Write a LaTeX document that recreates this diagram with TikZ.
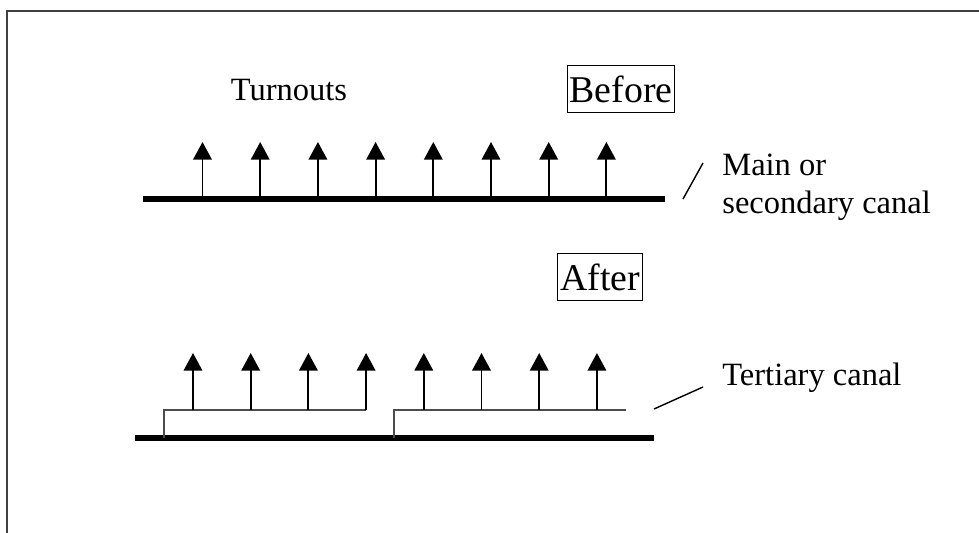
\documentclass[tikz,border=0pt]{standalone}
\usepackage{fontspec}
\setmainfont{Liberation Serif}
\usetikzlibrary{arrows.meta}
\begin{document}
\begin{tikzpicture}[x=0.02cm, y=-0.02cm,
    canal/.style={line width=3.4pt},
    turnout/.style={line width=1.1pt, -{Triangle[width=10.5pt,length=10pt]}},
    tertiary/.style={line width=1.1pt, black!70},
    leader/.style={line width=0.8pt},
    label/.style={font=\fontsize{18.5}{21.5}\selectfont, inner sep=0pt},
    stage/.style={draw, line width=0.6pt, font=\fontsize{21.5}{24}\selectfont, inner sep=0pt}]
    \useasboundingbox (0,0) rectangle (979,533);
    \draw[line width=1.1pt, black!75] (7,533) -- (7,11) -- (979,11);

    % before
    \node[label, anchor=base] (turnouts) at (289,101) {Turnouts};
    \node[stage, minimum width=60.5pt, minimum height=26.5pt] (before) at (621,89) {Before};
    \coordinate (mainL) at (143,199);
    \coordinate (mainR) at (665,199);
    \draw[canal] (mainL) -- (mainR);
    \foreach \i in {0,...,7} {
        \coordinate (tb\i) at (202.5+57.7*\i,199);
        \coordinate (tt\i) at (202.5+57.7*\i,142);
        \draw[turnout] (tb\i) -- (tt\i);
    }
    \node[label, anchor=west, align=left] (mainlbl) at (722,187) {Main or\\secondary canal};
    \coordinate (mainlead) at (683,199);
    \draw[leader] (mainlead) -- (703,163);

    % after
    \node[stage, minimum width=48pt, minimum height=27pt] (after) at (600,277) {After};
    \coordinate (secL) at (135,438);
    \coordinate (secR) at (654,438);
    \draw[canal] (secL) -- (secR);
    \coordinate (terA) at (164,438);
    \coordinate (terB) at (394,438);
    \draw[tertiary] (terA) -- (164,410) -- (366,410);
    \draw[tertiary] (terB) -- (394,410) -- (626,410);
    \foreach \i in {0,...,7} {
        \coordinate (ab\i) at (193+57.7*\i,410);
        \coordinate (at\i) at (193+57.7*\i,353);
        \draw[turnout] (ab\i) -- (at\i);
    }
    \node[label, anchor=base west] (terlbl) at (722,385) {Tertiary canal};
    \coordinate (terlead) at (654,409);
    \draw[leader] (terlead) -- (703,387);
\end{tikzpicture}
\end{document}
